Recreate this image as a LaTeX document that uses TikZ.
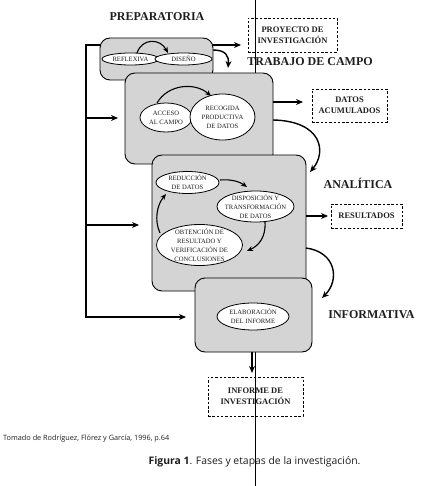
\documentclass[tikz,border=0pt]{standalone}
\usepackage{fontspec}
\setmainfont{Liberation Serif}
\newfontfamily\capfont{Open Sans}
\usetikzlibrary{shapes.geometric,arrows.meta}
\definecolor{boxgray}{HTML}{D4D4D4}
\definecolor{txt}{HTML}{1E1E1E}
\begin{document}
\begin{tikzpicture}[x=1pt,y=-1pt,
  phase/.style={draw=black, line width=0.9pt, fill=boxgray, rounded corners=10pt, inner sep=0pt},
  ell/.style={draw=black, line width=0.8pt, fill=white, ellipse, inner sep=0pt},
  etext/.style={font=\fontsize{6.6}{9}\selectfont, align=center, text=txt, inner sep=0pt},
  title/.style={font=\fontsize{12}{14}\selectfont\bfseries, text=txt, inner sep=0pt},
  outbox/.style={draw=black, dash pattern=on 2.5pt off 1.8pt, line width=0.7pt, font=\fontsize{8.5}{11}\selectfont\bfseries, align=center, inner sep=0pt, text=txt},
  conn/.style={line width=1.4pt, -{Stealth[length=7pt,width=6pt]}},
  iconn/.style={line width=1.1pt, -{Stealth[length=6pt,width=5pt]}},
]
\useasboundingbox (0,0) rectangle (434,486);

% titles
\node[title] (tprep) at (157,17) {PREPARATORIA};
\node[title] (tcampo) at (310,62) {TRABAJO DE CAMPO};
\node[title] (tanal) at (358,183) {ANALÍTICA};
\node[title] (tinfo) at (371.5,315) {INFORMATIVA};

% outputs
\node[outbox, minimum width=89, minimum height=34] (proy) at (292.5,35) {PROYECTO DE\\INVESTIGACIÓN};
\node[outbox, minimum width=75, minimum height=33] (datos) at (349.5,105.5) {DATOS\\ACUMULADOS};
\node[outbox, minimum width=71, minimum height=24] (result) at (366.5,216) {RESULTADOS};
\node[outbox, minimum width=95, minimum height=39] (informe) at (255.5,396.5) {INFORME DE\\INVESTIGACIÓN};

% scan line
\draw[line width=0.8pt] (255.5,0) -- (255.5,486);

% box 1
\node[phase, minimum width=113, minimum height=42] (b1) at (156.5,59) {};
\node[ell, minimum width=57, minimum height=12] (refl) at (130.5,59) {};
\node[etext] at (refl) {REFLEXIVA};
\node[ell, minimum width=57, minimum height=12] (dise) at (183.5,59) {};
\node[etext] at (dise) {DISEÑO};
\coordinate (r1) at (137,53);
\coordinate (d1) at (168,53);
\draw[iconn] (r1) .. controls (142,38) and (160,38) .. (d1);

% box 2
\node[phase, minimum width=148, minimum height=91] (b2) at (199,118.5) {};
\node[ell, minimum width=52, minimum height=29] (acc) at (166,117.5) {};
\node[etext] at (acc) {ACCESO\\AL CAMPO};
\node[ell, minimum width=65, minimum height=46] (rec) at (222.5,117) {};
\node[etext] at (rec) {RECOGIDA\\PRODUCTIVA\\DE DATOS};
\coordinate (a1) at (157,103);
\coordinate (a2) at (211,96);
\draw[iconn] (a1) .. controls (168,84) and (195,82) .. (a2);

% box 3
\node[phase, minimum width=154, minimum height=136] (b3) at (229,223) {};
\node[ell, minimum width=63, minimum height=22] (red) at (187.5,182.5) {};
\node[etext] at (red) {REDUCCIÓN\\DE DATOS};
\node[ell, minimum width=77, minimum height=31] (disp) at (255.5,206.5) {};
\node[etext] at (disp) {DISPOSICIÓN Y\\TRANSFORMACIÓN\\DE DATOS};
\node[ell, minimum width=86, minimum height=41] (obt) at (199.5,245) {};
\node[etext] at (obt) {OBTENCIÓN DE\\RESULTADO Y\\VERIFICACIÓN DE\\CONCLUSIONES};
\coordinate (c1) at (220,180);
\coordinate (c2) at (247,187);
\coordinate (c3) at (265,222);
\coordinate (c4) at (247,251);
\coordinate (c5) at (160,233);
\coordinate (c6) at (166,194);
\draw[iconn] (c1) .. controls (232,179) and (240,182) .. (c2);
\draw[iconn] (c3) .. controls (266,238) and (258,246) .. (c4);
\draw[iconn] (c5) .. controls (154,220) and (157,205) .. (c6);

% box 4
\node[phase, minimum width=117, minimum height=74] (b4) at (253.5,315) {};
\node[ell, minimum width=72, minimum height=27] (elab) at (253,316.5) {};
\node[etext] at (elab) {ELABORACIÓN\\DEL INFORME};

% outgoing arrows
\coordinate (o1s) at (213,45);
\coordinate (o1e) at (241,45);
\draw[conn] (o1s) -- (o1e);
\coordinate (k1s) at (213,50);
\coordinate (k1e) at (228,68);
\draw[conn] (k1s) .. controls (226,50) and (229,56) .. (k1e);

\coordinate (o2s) at (273,102);
\coordinate (o2e) at (303,102);
\draw[conn] (o2s) -- (o2e);
\coordinate (k2s) at (273,120);
\coordinate (k2e) at (310,172);
\draw[conn] (k2s) .. controls (322,121) and (327,152) .. (k2e);

\coordinate (o3s) at (306,216);
\coordinate (o3e) at (328,216);
\draw[conn] (o3s) -- (o3e);
\coordinate (k3s) at (306,248);
\coordinate (k3e) at (322,298);
\draw[conn] (k3s) .. controls (336,252) and (340,280) .. (k3e);

\coordinate (o4s) at (252,352);
\coordinate (o4e) at (252,373);
\draw[conn] (o4s) -- (o4e);

% feedback bracket
\coordinate (f0) at (100,45);
\coordinate (f1) at (86,45);
\coordinate (f2) at (86,317);
\coordinate (f3) at (186,317);
\coordinate (g1) at (86,118);
\coordinate (g2) at (118,118);
\coordinate (h1) at (86,225);
\coordinate (h2) at (139,225);
\draw[conn] (f0) -- (f1) -- (f2) -- (f3);
\draw[conn] (g1) -- (g2);
\draw[conn] (h1) -- (h2);

% captions
\node[anchor=west, inner sep=0pt, font=\capfont\fontsize{7.3}{8}\selectfont, text=txt] (src) at (3,439) {Tomado de Rodríguez, Flórez y García, 1996, p.64};
\node[inner sep=0pt, font=\capfont\fontsize{10.4}{12}\selectfont, text=txt] (fig) at (254.5,462) {\textbf{Figura 1}. Fases y etapas de la investigación.};
\end{tikzpicture}
\end{document}
